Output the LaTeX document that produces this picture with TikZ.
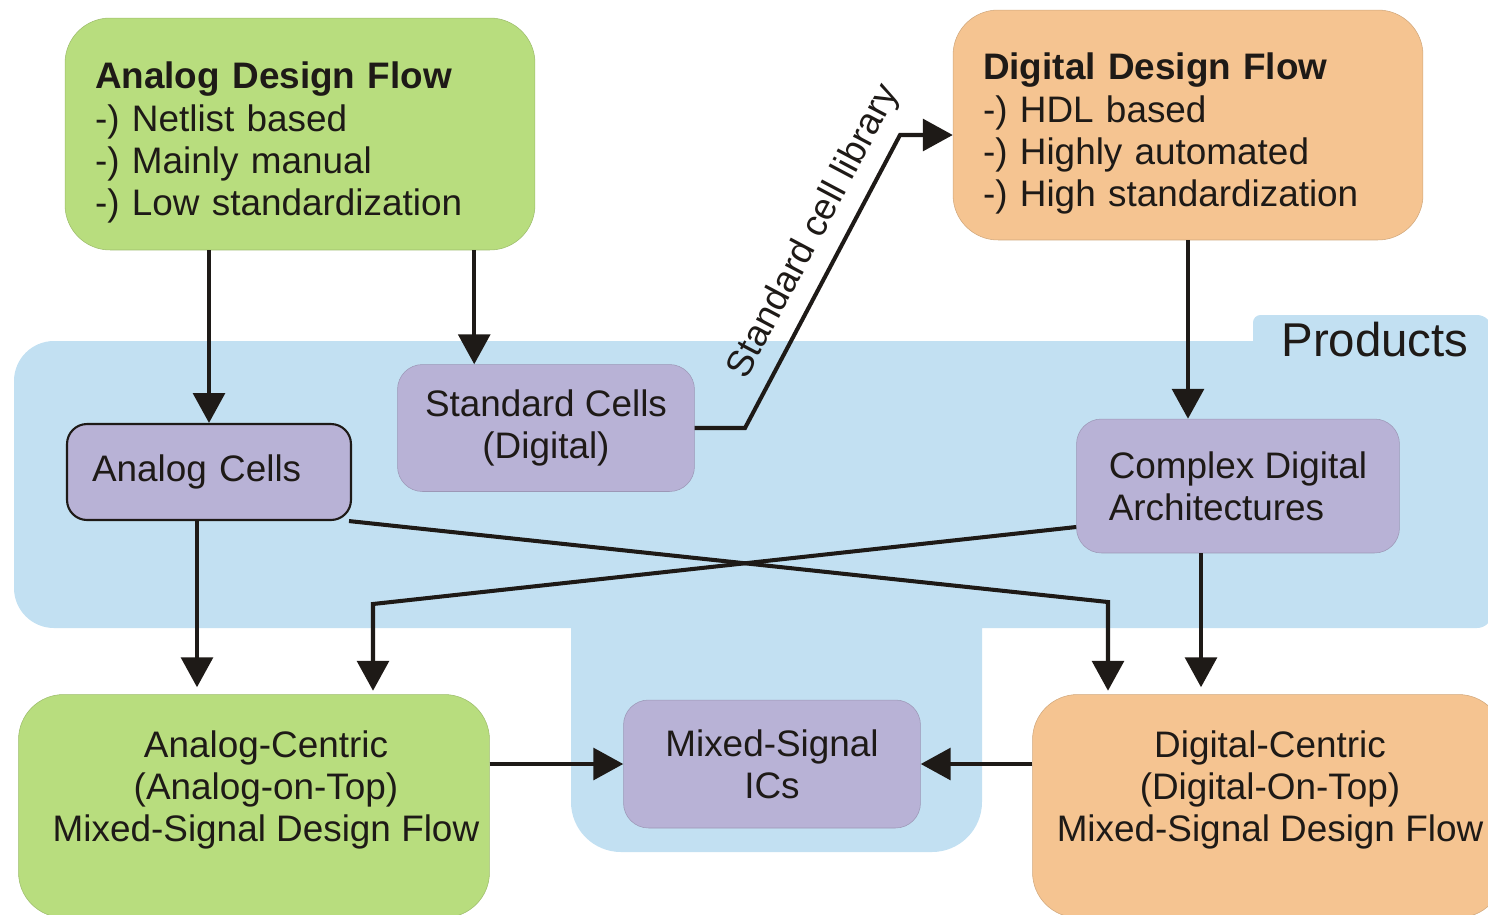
\documentclass[tikz,border=0pt]{standalone}
\usepackage{fontspec}
\setmainfont{Liberation Sans}
\usetikzlibrary{positioning,calc,arrows.meta}

\definecolor{flowgreen}{RGB}{184,221,126}
\definecolor{floworange}{RGB}{245,196,145}
\definecolor{cellpurple}{RGB}{184,178,214}
\definecolor{prodblue}{RGB}{194,224,242}
\definecolor{ink}{RGB}{30,26,23}

\tikzset{
  flowbox/.style={rounded corners=0.9cm, minimum width=9.4cm, minimum height=4.64cm,
    text width=8.2cm, inner xsep=0.6cm, align=left, line width=0.3pt},
  msflow/.style={rounded corners=0.9cm, minimum width=9.42cm, minimum height=4.46cm, line width=0.3pt},
  cellbox/.style={fill=cellpurple, draw=cellpurple!85!black, line width=0.3pt, rounded corners=0.5cm},
  arr/.style={ink, line width=2.3pt, -{Triangle[width=18pt,length=17pt]}},
}

\begin{document}
\begin{tikzpicture}[x=0.02cm, y=-0.02cm, font=\fontsize{21}{24}\selectfont, text=ink]
    \useasboundingbox (0,0) rectangle (1488,914);

    % Products area
    \fill[prodblue] (300,628) [sharp corners] -- (571,628) [rounded corners=1cm] -- (571,852) -- (982,852)
        [sharp corners] -- (982,628) [rounded corners=0.3cm] -- (1492,628) -- (1492,315)
        [rounded corners=0.15cm] -- (1253,315) [sharp corners] -- (1253,341)
        [rounded corners=0.8cm] -- (14,341) -- (14,628) -- cycle;
    \node[font=\fontsize{27}{32}\selectfont] (prod) at (1375,340) {Products};

    % Design flows
    \node[flowbox, fill=flowgreen, draw=flowgreen!85!black] (adf) at (300,134)
        {\rule{0pt}{25pt}\textbf{Analog Design Flow}\\-) Netlist based\\-) Mainly manual\\-) Low standardization};
    \node[flowbox, fill=floworange, draw=floworange!85!black, minimum height=4.6cm] (ddf) at (1188,125)
        {\rule{0pt}{25pt}\textbf{Digital Design Flow}\\-) HDL based\\-) Highly automated\\-) High standardization};

    % Cells and products
    \node[cellbox, minimum width=5.94cm, minimum height=2.54cm, align=center] (stdc) at (546,428)
        {Standard Cells\\(Digital)};
    \node[cellbox, draw=ink, line width=1.2pt, rounded corners=0.4cm, minimum width=5.68cm,
        minimum height=1.92cm, text width=4.68cm, inner xsep=0.5cm, align=left] (acell) at (209,472) {Analog Cells};
    \node[cellbox, minimum width=6.46cm, minimum height=2.68cm, align=left] (cda) at (1238,486)
        {Complex Digital\\Architectures};
    \node[cellbox, minimum width=5.94cm, minimum height=2.56cm, align=center] (msic) at (772,764)
        {Mixed-Signal\\ICs};

    % Mixed-signal flows
    \node[msflow, fill=flowgreen, draw=flowgreen!85!black] (ac) at (254,806) {};
    \node[align=center] (actext) at (266,790) {Analog-Centric\\(Analog-on-Top)\\Mixed-Signal Design Flow};
    \node[msflow, fill=floworange, draw=floworange!85!black] (dc) at (1268,806) {};
    \node[align=center] (dctext) at (1270,790) {Digital-Centric\\(Digital-On-Top)\\Mixed-Signal Design Flow};

    % Connectors
    \coordinate (t1) at ([xshift=-1.22cm]adf.south east);
    \coordinate (k1) at (745,428);
    \coordinate (k2) at (900,135);
    \coordinate (a1) at ([xshift=-0.24cm]acell.south);
    \coordinate (k3) at (1108,602);
    \coordinate (k4) at (373,604);
    \coordinate (c1) at ([xshift=-0.74cm]cda.south);

    \draw[arr] (adf.south -| acell.north) -- (acell.north);
    \draw[arr] (t1) -- (t1 |- stdc.north);
    \draw[arr] (stdc.east) -- (k1) -- node[sloped, above=3pt, pos=0.62] {Standard cell library} (k2) -- (k2 -| ddf.west);
    \draw[arr] (ddf.south) -- (ddf.south |- cda.north);
    \draw[arr, shorten >=4pt] (a1) -- (a1 |- ac.north);
    \draw[arr, shorten >=2pt] ([xshift=-0.06cm]acell.south east) -- (k3) -- (k3 |- dc.north);
    \draw[arr, shorten >=2pt] ([yshift=-0.82cm]cda.west) -- (k4) -- (k4 |- ac.north);
    \draw[arr, shorten >=4pt] (c1) -- (c1 |- dc.north);
    \draw[arr] (ac.east |- msic.west) -- (msic.west);
    \draw[arr] (dc.west |- msic.east) -- (msic.east);
\end{tikzpicture}
\end{document}
